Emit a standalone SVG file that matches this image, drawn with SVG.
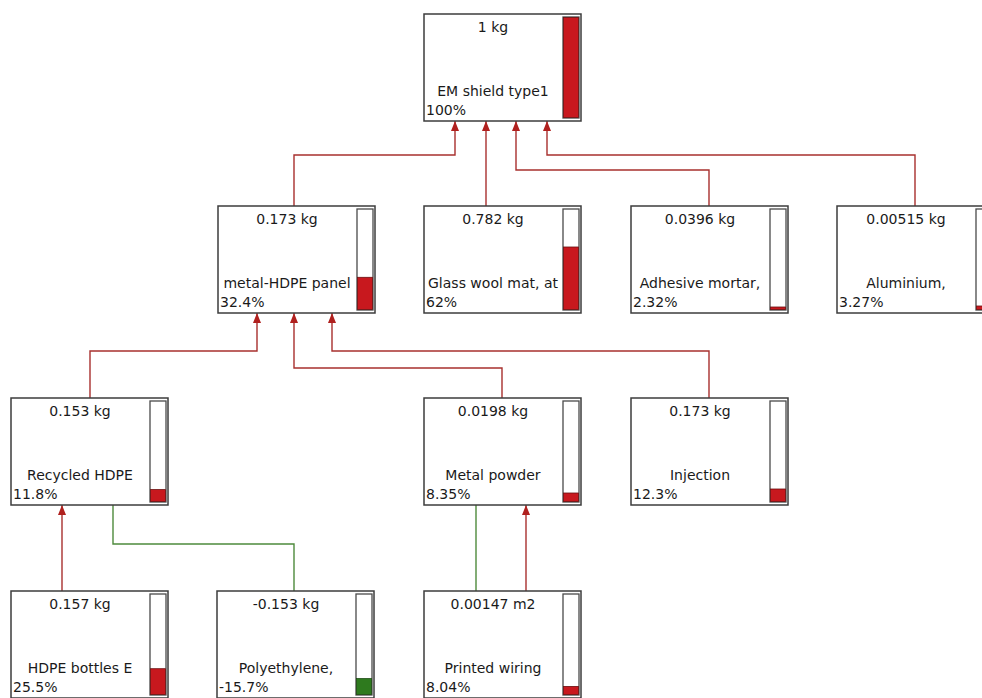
<svg xmlns="http://www.w3.org/2000/svg" width="982" height="698" viewBox="0 0 982 698">
<style>
.box{fill:#fff;stroke:#3c3c3c;stroke-width:1.5}
.bar{fill:#fff;stroke:#4a4a4a;stroke-width:1.3}
.red{fill:#c8181e;stroke:#6a1010;stroke-width:0.8}
.green{fill:#2e7a1e;stroke:#1c4a12;stroke-width:0.8}
text{font-family:"DejaVu Sans","Liberation Sans",sans-serif;font-size:14px;fill:#1a1a1a}
.c{text-anchor:middle}
.lr{fill:none;stroke:#a8302e;stroke-width:1.4}
.lg{fill:none;stroke:#4e8a3c;stroke-width:1.4}
</style>
<defs>
<marker id="ah" markerUnits="userSpaceOnUse" markerWidth="10" markerHeight="10" viewBox="0 0 10 10" refX="10" refY="5" orient="auto">
<path d="M0,1 L10,5 L0,9 Z" fill="#b0201e"/>
</marker>
</defs>
<g id="connectors">
<polyline class="lr" points="294,206 294,155 455,155 455,121" marker-end="url(#ah)"/>
<polyline class="lr" points="486,206 486,121" marker-end="url(#ah)"/>
<polyline class="lr" points="709,206 709,170 516,170 516,121" marker-end="url(#ah)"/>
<polyline class="lr" points="915,206 915,155 547,155 547,121" marker-end="url(#ah)"/>
<polyline class="lr" points="90,398 90,351 257,351 257,313" marker-end="url(#ah)"/>
<polyline class="lr" points="502,398 502,368 294,368 294,313" marker-end="url(#ah)"/>
<polyline class="lr" points="709,398 709,351 332,351 332,313" marker-end="url(#ah)"/>
<polyline class="lr" points="62,591 62,505" marker-end="url(#ah)"/>
<polyline class="lg" points="113,505 113,544 294,544 294,591"/>
<polyline class="lg" points="476,505 476,591"/>
<polyline class="lr" points="526,591 526,505" marker-end="url(#ah)"/>
</g>
<g id="n_em_shield">
<rect class="box" x="424" y="14" width="157" height="107"/>
<rect class="bar" x="563" y="17" width="16" height="101"/>
<rect class="red" x="563.5" y="17.5" width="15" height="100"/>
<text class="c" x="493" y="32">1 kg</text>
<text class="c" x="493" y="96">EM shield type1</text>
<text x="426" y="115">100%</text>
</g>
<g id="n_metal_hdpe">
<rect class="box" x="218" y="206" width="157" height="107"/>
<rect class="bar" x="357" y="209" width="16" height="101"/>
<rect class="red" x="357.5" y="277.3" width="15" height="32.2"/>
<text class="c" x="287" y="224">0.173 kg</text>
<text class="c" x="287" y="288">metal-HDPE panel</text>
<text x="220" y="307">32.4%</text>
</g>
<g id="n_glass_wool">
<rect class="box" x="424" y="206" width="157" height="107"/>
<rect class="bar" x="563" y="209" width="16" height="101"/>
<rect class="red" x="563.5" y="247" width="15" height="62.5"/>
<text class="c" x="493" y="224">0.782 kg</text>
<text class="c" x="493" y="288">Glass wool mat, at</text>
<text x="426" y="307">62%</text>
</g>
<g id="n_adhesive">
<rect class="box" x="631" y="206" width="157" height="107"/>
<rect class="bar" x="770" y="209" width="16" height="101"/>
<rect class="red" x="770.5" y="307" width="15" height="2.5"/>
<text class="c" x="700" y="224">0.0396 kg</text>
<text class="c" x="700" y="288">Adhesive mortar,</text>
<text x="633" y="307">2.32%</text>
</g>
<g id="n_aluminium">
<rect class="box" x="837" y="206" width="157" height="107"/>
<rect class="bar" x="976" y="209" width="16" height="101"/>
<rect class="red" x="976.5" y="306" width="15" height="3.5"/>
<text class="c" x="906" y="224">0.00515 kg</text>
<text class="c" x="906" y="288">Aluminium,</text>
<text x="839" y="307">3.27%</text>
</g>
<g id="n_recycled_hdpe">
<rect class="box" x="11" y="398" width="157" height="107"/>
<rect class="bar" x="150" y="401" width="16" height="101"/>
<rect class="red" x="150.5" y="489.6" width="15" height="11.9"/>
<text class="c" x="80" y="416">0.153 kg</text>
<text class="c" x="80" y="480">Recycled HDPE</text>
<text x="13" y="499">11.8%</text>
</g>
<g id="n_metal_powder">
<rect class="box" x="424" y="398" width="157" height="107"/>
<rect class="bar" x="563" y="401" width="16" height="101"/>
<rect class="red" x="563.5" y="493" width="15" height="8.5"/>
<text class="c" x="493" y="416">0.0198 kg</text>
<text class="c" x="493" y="480">Metal powder</text>
<text x="426" y="499">8.35%</text>
</g>
<g id="n_injection">
<rect class="box" x="631" y="398" width="157" height="107"/>
<rect class="bar" x="770" y="401" width="16" height="101"/>
<rect class="red" x="770.5" y="489" width="15" height="12.5"/>
<text class="c" x="700" y="416">0.173 kg</text>
<text class="c" x="700" y="480">Injection</text>
<text x="633" y="499">12.3%</text>
</g>
<g id="n_hdpe_bottles">
<rect class="box" x="11" y="591" width="157" height="107"/>
<rect class="bar" x="150" y="594" width="16" height="101"/>
<rect class="red" x="150.5" y="668.7" width="15" height="25.8"/>
<text class="c" x="80" y="609">0.157 kg</text>
<text class="c" x="80" y="673">HDPE bottles E</text>
<text x="13" y="692">25.5%</text>
</g>
<g id="n_polyethylene">
<rect class="box" x="217" y="591" width="157" height="107"/>
<rect class="bar" x="356" y="594" width="16" height="101"/>
<rect class="green" x="356.5" y="678.6" width="15" height="15.9"/>
<text class="c" x="286" y="609">-0.153 kg</text>
<text class="c" x="286" y="673">Polyethylene,</text>
<text x="219" y="692">-15.7%</text>
</g>
<g id="n_printed_wiring">
<rect class="box" x="424" y="591" width="157" height="107"/>
<rect class="bar" x="563" y="594" width="16" height="101"/>
<rect class="red" x="563.5" y="686.4" width="15" height="8.1"/>
<text class="c" x="493" y="609">0.00147 m2</text>
<text class="c" x="493" y="673">Printed wiring</text>
<text x="426" y="692">8.04%</text>
</g>
</svg>
